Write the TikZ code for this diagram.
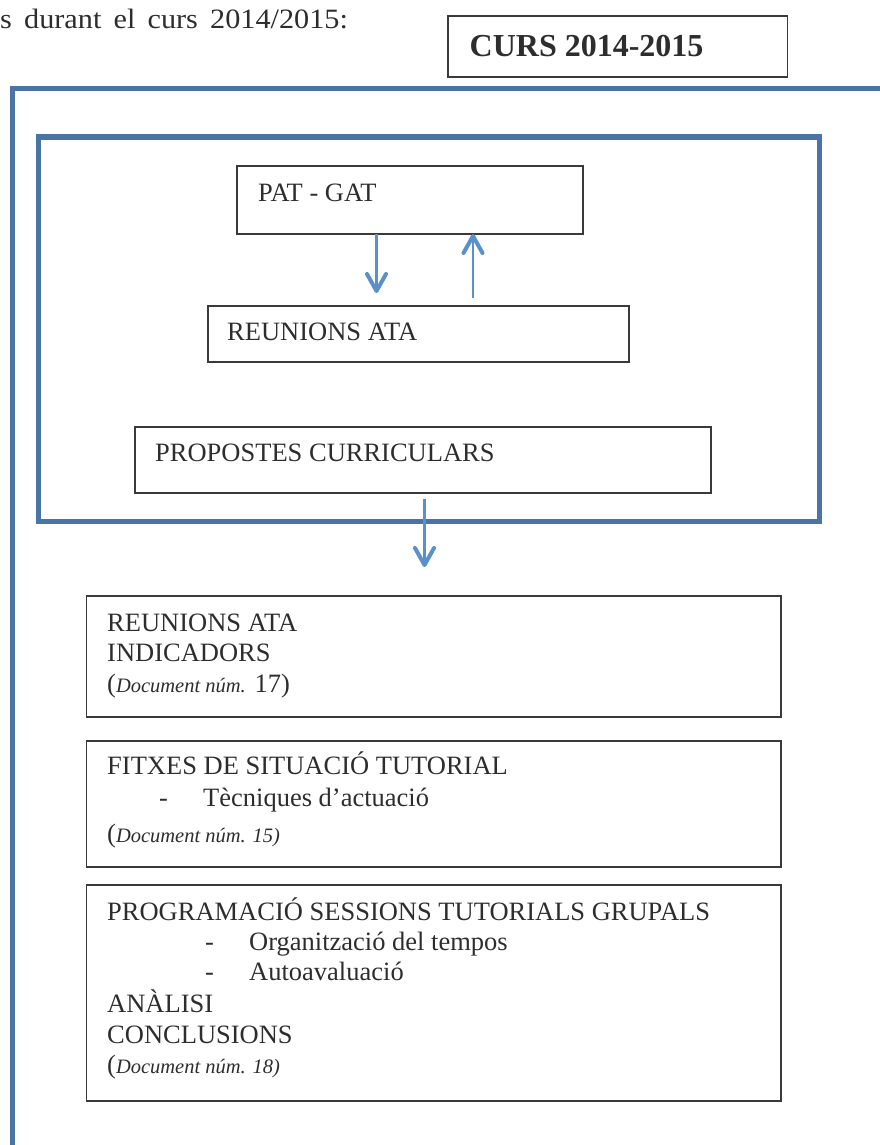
\documentclass[tikz,border=0pt]{standalone}
\usepackage{fontspec}
\usepackage{graphicx}
\setmainfont{Liberation Serif}
\usetikzlibrary{arrows.meta}
\definecolor{framecol}{RGB}{74,116,165}
\definecolor{arrowcol}{RGB}{92,144,201}
\definecolor{boxcol}{RGB}{58,58,58}
\definecolor{txtcol}{RGB}{45,45,45}
\newcommand{\docref}[1]{\textit{\fontsize{20.5}{24}\selectfont #1}}
\begin{document}
\begin{tikzpicture}[x=1pt,y=-1pt,
  frame/.style={draw=framecol,line width=5pt,inner sep=0pt,outer sep=0pt,anchor=north west},
  box/.style={draw=boxcol,line width=1.6pt,inner sep=0pt,outer sep=0pt,anchor=north west},
  txt/.style={inner sep=0pt,anchor=base west,text=txtcol,font=\fontsize{26.5}{30}\selectfont},
  link/.style={draw=arrowcol,line width=2.2pt,
    -{Straight Barb[length=17pt,width=19pt,line width=4pt,round]}}
]
\useasboundingbox (0,0) rectangle (880,1145);

% heading line and year box
\node[txt] (intro) at (0,28.3)
  {\fontsize{28}{32}\selectfont\scalebox{1.08}[1]{\makebox[322pt][s]{s durant el curs 2014/2015:}}};
\node[box, minimum width=339.5pt, minimum height=61pt] (curs) at (448,16) {};
\node[txt, font=\bfseries\fontsize{32}{36}\selectfont] (curstxt) at (469.5,56.7) {CURS 2014-2015};

% blue frames
\node[frame, minimum width=900pt, minimum height=1100pt] (outer) at (12,88.5) {};
\node[frame, minimum width=781pt, minimum height=384pt] (inner) at (38,137) {};

% boxes inside the inner frame
\node[box, minimum width=346pt, minimum height=68pt] (patgat) at (237,166) {};
\node[txt] (patgattxt) at (258,201.5) {PAT - GAT};
\node[box, minimum width=421pt, minimum height=56pt] (reun) at (208,306) {};
\node[txt] (reuntxt) at (227,340) {REUNIONS ATA};
\node[box, minimum width=576pt, minimum height=66pt] (prop) at (135,427) {};
\node[txt] (proptxt) at (155,461.7) {PROPOSTES CURRICULARS};

% lower boxes
\node[box, minimum width=694.5pt, minimum height=121pt] (b1) at (86.5,596) {};
\node[txt] (b1a) at (107,631) {REUNIONS ATA};
\node[txt] (b1b) at (107,661.5) {INDICADORS};
\node[txt] (b1c) at (107,692) {(\docref{Document núm.} 17)};

\node[box, minimum width=694.5pt, minimum height=126pt] (b2) at (86.5,741) {};
\node[txt] (b2a) at (107,774) {FITXES DE SITUACIÓ TUTORIAL};
\node[txt] (b2d) at (159,806) {-};
\node[txt] (b2b) at (203,806) {Tècniques d’actuació};
\node[txt] (b2c) at (107,842) {(\docref{Document núm. 15)}};

\node[box, minimum width=694.5pt, minimum height=216pt] (b3) at (86.5,885) {};
\node[txt] (b3a) at (107,920) {PROGRAMACIÓ SESSIONS TUTORIALS GRUPALS};
\node[txt] (b3d1) at (205,950) {-};
\node[txt] (b3b) at (249,950) {Organització del tempos};
\node[txt] (b3d2) at (205,980) {-};
\node[txt] (b3c) at (249,980) {Autoavaluació};
\node[txt] (b3e) at (107,1012) {ANÀLISI};
\node[txt] (b3f) at (107,1043) {CONCLUSIONS};
\node[txt] (b3g) at (107,1073) {(\docref{Document núm. 18)}};

% connectors
\coordinate (xa) at (376.5,0);
\coordinate (xb) at (473,0);
\coordinate (xc) at (424.5,0);
\draw[link] (xa |- patgat.south) -- ([yshift=13pt]xa |- reun.north);
\draw[link] ([yshift=8pt]xb |- reun.north) -- (xb |- patgat.south);
\draw[link] ([yshift=-6pt]xc |- prop.south) -- ([yshift=-46pt]xc |- inner.south);
\end{tikzpicture}
\end{document}
